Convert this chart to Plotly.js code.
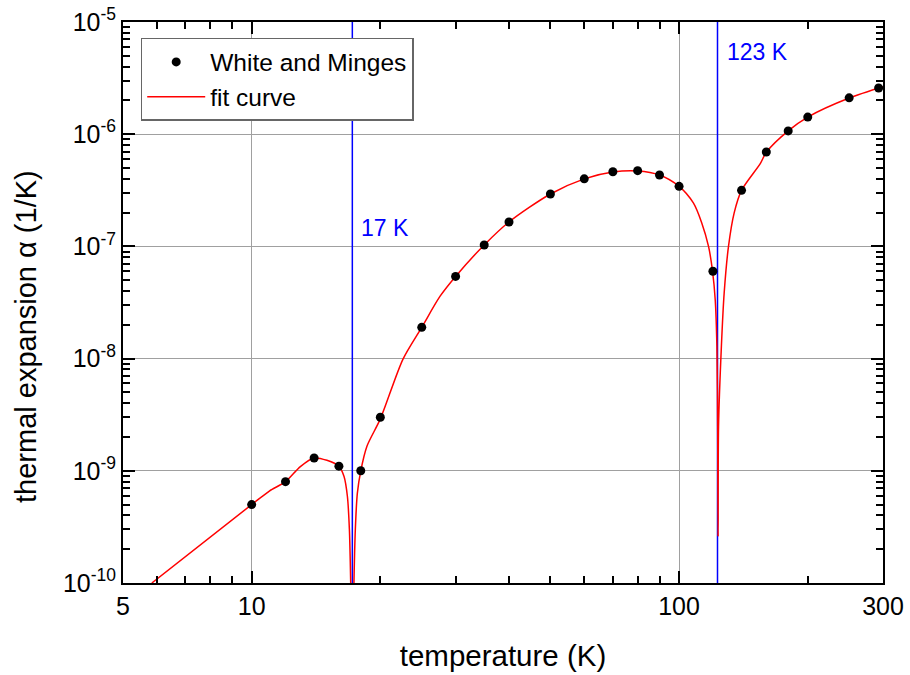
<!DOCTYPE html>
<html>
<head>
<meta charset="utf-8">
<script src="https://cdn.plot.ly/plotly-3.0.1.min.js"></script>
<style>html,body{margin:0;padding:0;background:#fff;}#chart{width:910px;height:675px;}</style>
</head>
<body>
<div id="chart"></div>
<script>
// Measured data (White and Minges)
var dataT = [10, 12, 14, 16, 18, 20, 25, 30, 35, 40, 50, 60, 70, 80, 90, 100, 120, 140, 160, 180, 200, 250, 293];
var dataAlpha = [5.0e-10, 8.0e-10, 1.3e-9, 1.1e-9, 1.0e-9, 3.0e-9, 1.9e-8, 5.4e-8, 1.03e-7, 1.65e-7, 2.93e-7, 4.0e-7, 4.63e-7, 4.73e-7, 4.33e-7, 3.43e-7, 6.0e-8, 3.16e-7, 6.94e-7, 1.07e-6, 1.42e-6, 2.11e-6, 2.58e-6];

// Fit curve
var fitT = [5.84, 10, 11, 12, 13, 14, 15, 16, 16.45, 16.75, 16.93, 17.05, 17.2, 17.35, 17.48, 17.67, 18, 18.6, 20, 22.6, 25, 27.6, 30, 35, 40, 50, 60, 70, 80, 90, 100, 108, 113, 117.2, 119.7, 121.5, 122.6, 123.1, 123.4, 123.7, 125.6, 127.5, 130.5, 134.6, 140, 155, 160, 180, 200, 250, 300];
var fitAlpha = [1.0e-10, 5.0e-10, 6.6e-10, 8.0e-10, 1.09e-9, 1.3e-9, 1.24e-9, 1.1e-9, 8.9e-10, 5.9e-10, 3.0e-10, 1.0e-10, 1.0e-11, 1.0e-10, 3.0e-10, 6.3e-10, 1.0e-9, 1.65e-9, 2.9e-9, 9.9e-9, 1.9e-8, 3.6e-8, 5.4e-8, 1.03e-7, 1.65e-7, 2.93e-7, 4.0e-7, 4.6e-7, 4.7e-7, 4.33e-7, 3.43e-7, 2.44e-7, 1.62e-7, 1.0e-7, 6.1e-8, 3.35e-8, 1.28e-8, 2.5e-9, 2.6e-10, 2.5e-9, 1.28e-8, 3.84e-8, 1.0e-7, 2.0e-7, 3.16e-7, 5.5e-7, 6.9e-7, 1.07e-6, 1.42e-6, 2.1e-6, 2.65e-6];

// Marked temperatures
var markT = [17.2, 123];
var markLabels = ['17 K', '123 K'];
var markLabelAlpha = [1.47e-7, 5.4e-6];
var alphaRange = [1e-10, 1e-5];

// Tick labels
var xTickVals = [5, 10, 100, 300];
var xTickText = ['5', '10', '100', '300'];
var yTickVals = [1e-10, 1e-9, 1e-8, 1e-7, 1e-6, 1e-5];
var yTickText = ['10<sup>-10</sup>', '10<sup>-9</sup>', '10<sup>-8</sup>', '10<sup>-7</sup>', '10<sup>-6</sup>', '10<sup>-5</sup>'];

var xMinor = [6, 7, 8, 9, 20, 30, 40, 50, 60, 70, 80, 90, 200];
var yMinor = [];
for (var e = -10; e < -5; e++) { for (var m = 2; m <= 9; m++) { yMinor.push(m * Math.pow(10, e)); } }

var FONT = 'Arial, "Liberation Sans", sans-serif';

var traces = [];
markT.forEach(function (t) {
  traces.push({
    x: [t, t], y: alphaRange, mode: 'lines', type: 'scatter',
    line: {color: '#0000ff', width: 1.5}, showlegend: false, hoverinfo: 'skip'
  });
});
traces.push({
  x: fitT, y: fitAlpha, mode: 'lines', type: 'scatter', name: 'fit curve',
  line: {color: '#ff0000', width: 1.5, shape: 'spline', smoothing: 0.8}, legendrank: 2
});
traces.push({
  x: dataT, y: dataAlpha, mode: 'markers', type: 'scatter', name: 'White and Minges',
  marker: {color: '#000000', size: 9}, legendrank: 1, cliponaxis: false
});

var annotations = markT.map(function (t, i) {
  return {
    x: Math.log10(t), y: Math.log10(markLabelAlpha[i]), xref: 'x', yref: 'y',
    text: markLabels[i], showarrow: false, xanchor: 'left', yanchor: 'middle',
    xshift: 7, font: {family: FONT, size: 23, color: '#0000ff'}
  };
});
// y-axis title placed as an annotation (reference title sits below the plot centre)
annotations.push({
  x: 26, y: 675 - 337, xref: 'paper', yref: 'paper', showarrow: false, textangle: -90,
  text: 'thermal expansion α (1/K)', xanchor: 'center', yanchor: 'middle',
  font: {family: FONT, size: 29, color: '#000'}
});
// convert pixel placement to paper fractions
var L = 123, R = 27, T = 22, B = 92, W = 910, H = 675;
var last = annotations[annotations.length - 1];
last.x = (last.x - L) / (W - L - R);
last.y = (last.y - B) / (H - T - B);

var layout = {
  width: W, height: H,
  margin: {l: L, r: R, t: T, b: B},
  paper_bgcolor: '#ffffff', plot_bgcolor: '#ffffff',
  font: {family: FONT, size: 25, color: '#000'},
  showlegend: true,
  legend: {
    x: 0.0233, y: 0.9715, xanchor: 'left', yanchor: 'top',
    bgcolor: '#ffffff', bordercolor: '#666666', borderwidth: 1.5,
    font: {family: FONT, size: 24.5, color: '#000'},
    itemwidth: 58, tracegroupgap: 0
  },
  xaxis: {
    type: 'log', range: [Math.log10(5), Math.log10(300)],
    tickmode: 'array', tickvals: xTickVals, ticktext: xTickText,
    ticks: 'inside', ticklen: 12, tickwidth: 2, tickcolor: '#000',
    showline: true, linecolor: '#000', linewidth: 2, mirror: 'ticks',
    showgrid: true, gridcolor: '#a0a0a0', gridwidth: 1, zeroline: false,
    tickfont: {family: FONT, size: 25, color: '#000'},
    minor: {tickmode: 'array', tickvals: xMinor, ticks: 'inside', ticklen: 7, tickwidth: 2, tickcolor: '#000', showgrid: false},
    title: {text: 'temperature (K)', font: {family: FONT, size: 29.5, color: '#000'}, standoff: 26}
  },
  yaxis: {
    type: 'log', range: [-10, -5],
    tickmode: 'array', tickvals: yTickVals, ticktext: yTickText,
    ticks: 'inside', ticklen: 12, tickwidth: 2, tickcolor: '#000',
    showline: true, linecolor: '#000', linewidth: 2, mirror: 'ticks',
    showgrid: true, gridcolor: '#a0a0a0', gridwidth: 1, zeroline: false,
    tickfont: {family: FONT, size: 25, color: '#000'},
    minor: {tickmode: 'array', tickvals: yMinor, ticks: 'inside', ticklen: 7, tickwidth: 2, tickcolor: '#000', showgrid: false}
  },
  annotations: annotations
};

Plotly.newPlot('chart', traces, layout, {displayModeBar: false, staticPlot: true});
</script>
</body>
</html>
